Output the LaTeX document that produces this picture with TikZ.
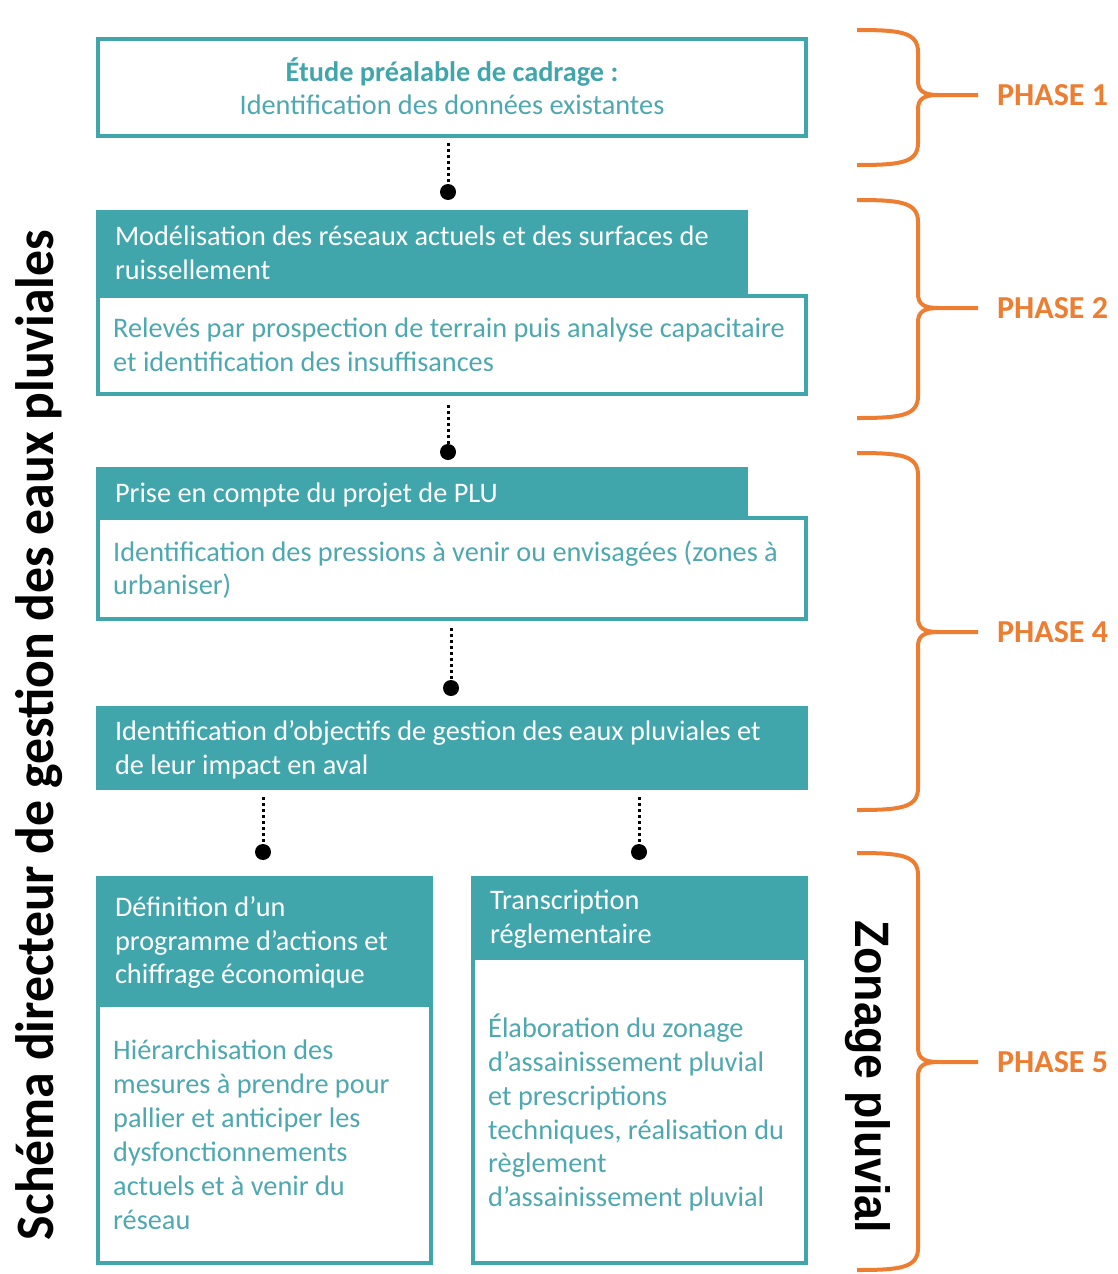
\documentclass[tikz,border=0pt]{standalone}
\usepackage{fontspec}
\setmainfont{Carlito}
\newfontfamily\arialfont{Liberation Sans}
\usetikzlibrary{calc}
\definecolor{teal1}{RGB}{65,166,172}
\definecolor{tealtxt}{RGB}{78,168,175}
\definecolor{orange1}{RGB}{237,125,49}
\newcommand\drawphasebrace[3]{%
 \draw[bracepath] (857,#1) .. controls (900,#1) and (918,#1+2) .. (918,#1+22) -- (918,#2-14) .. controls (918,#2-4) and (924,#2) .. (938,#2) -- (978,#2);
 \draw[bracepath] (938,#2) .. controls (924,#2) and (918,#2+4) .. (918,#2+14) -- (918,#3-22) .. controls (918,#3-2) and (900,#3) .. (857,#3);
}
\begin{document}
\begin{tikzpicture}[x=1pt,y=-1pt,
  bodyfont/.style={font=\fontsize{28.3}{33.5}\selectfont},
  outlinebox/.style={draw=teal1, line width=4pt, fill=white, inner sep=0pt},
  headbox/.style={fill=teal1, inner sep=0pt},
  headtext/.style={text=white, align=left, anchor=west, inner sep=0pt, bodyfont, yshift=-3pt},
  bodytext/.style={text=tealtxt, align=left, anchor=west, inner sep=0pt, bodyfont, yshift=-3pt},
  dotline/.style={line width=3pt, dash pattern=on 3pt off 3pt, black},
  blackdot/.style={circle, fill=black, inner sep=0pt, minimum size=16pt},
  bracepath/.style={draw=orange1, line width=4pt},
  phaselabel/.style={text=orange1, font=\fontsize{32}{36}\selectfont\bfseries, anchor=west, inner sep=0pt}
]
\useasboundingbox[fill=white] (0,0) rectangle (1117,1274);

% Box 1
\node[outlinebox, minimum width=708pt, minimum height=97pt] (b1) at (452,87.5) {};
\node[text=tealtxt, align=center, inner sep=0pt, bodyfont] (t1) at (452,91) {{\color{teal1}\bfseries Étude préalable de cadrage :}\strut\\Identification des données existantes\strut};

% Box 2
\node[headbox, minimum width=652pt, minimum height=86pt] (h2) at (422,253) {};
\node[outlinebox, minimum width=708pt, minimum height=98pt] (w2) at (452,345) {};
\node[headtext] (t2h) at ([xshift=19pt]h2.west) {Modélisation des réseaux actuels et des surfaces de\strut\\ruissellement\strut};
\node[bodytext] (t2b) at ([xshift=17pt]w2.west) {Relevés par prospection de terrain puis analyse capacitaire\strut\\et identification des insuffisances\strut};

% Box 3
\node[headbox, minimum width=652pt, minimum height=51pt] (h3) at (422,492.5) {};
\node[outlinebox, minimum width=708pt, minimum height=101pt] (w3) at (452,568.5) {};
\node[headtext] (t3h) at ([xshift=19pt]h3.west) {Prise en compte du projet de PLU\strut};
\node[bodytext] (t3b) at ([xshift=17pt]w3.west) {Identification des pressions à venir ou envisagées (zones à\strut\\urbaniser)\strut};

% Box 4
\node[headbox, minimum width=712pt, minimum height=84pt] (b4) at (452,748) {};
\node[headtext] (t4) at ([xshift=19pt]b4.west) {Identification d’objectifs de gestion des eaux pluviales et\strut\\de leur impact en aval\strut};

% Box 5
\node[headbox, minimum width=337pt, minimum height=129pt] (h5) at (264.5,940.5) {};
\node[outlinebox, minimum width=333pt, minimum height=258pt] (w5) at (264.5,1134) {};
\node[headtext] (t5h) at ([xshift=19pt]h5.west) {Définition d’un\strut\\programme d’actions et\strut\\chiffrage économique\strut};
\node[bodytext, font=\fontsize{28.3}{34}\selectfont, yshift=-1pt] (t5b) at ([xshift=17pt]w5.west) {Hiérarchisation des\strut\\mesures à prendre pour\strut\\pallier et anticiper les\strut\\dysfonctionnements\strut\\actuels et à venir du\strut\\réseau\strut};

% Box 6
\node[headbox, minimum width=337pt, minimum height=82pt] (h6) at (639.5,917) {};
\node[outlinebox, minimum width=333pt, minimum height=305pt] (w6) at (639.5,1110.5) {};
\node[headtext] (t6h) at ([xshift=19pt]h6.west) {Transcription\strut\\réglementaire\strut};
\node[bodytext, font=\fontsize{28.3}{33.8}\selectfont, yshift=-2pt] (t6b) at ([xshift=17pt]w6.west) {Élaboration du zonage\strut\\d’assainissement pluvial\strut\\et prescriptions\strut\\techniques, réalisation du\strut\\règlement\strut\\d’assainissement pluvial\strut};

% Connectors
\node[blackdot] (d1) at (448,192) {};
\node[blackdot] (d2) at (448,452) {};
\node[blackdot] (d3) at (451,688) {};
\node[blackdot] (d4) at (263,852) {};
\node[blackdot] (d5) at (639,852) {};
\coordinate (c1) at (448,143);
\coordinate (c2) at (448,405);
\coordinate (c3) at (451,628);
\coordinate (c4) at (263,797);
\coordinate (c5) at (639,797);
\draw[dotline] (c1) -- (d1.north);
\draw[dotline] (c2) -- (d2.north);
\draw[dotline] (c3) -- (d3.north);
\draw[dotline] (c4) -- (d4.north);
\draw[dotline] (c5) -- (d5.north);

% Braces
\drawphasebrace{30}{95}{165}
\drawphasebrace{200}{308}{418}
\drawphasebrace{453}{632}{810}
\drawphasebrace{853}{1062}{1270}
\node[phaselabel] (p1) at (997,95) {PHASE 1};
\node[phaselabel] (p2) at (997,308) {PHASE 2};
\node[phaselabel] (p4) at (997,632) {PHASE 4};
\node[phaselabel] (p5) at (997,1062) {PHASE 5};

% Vertical titles
\node[rotate=90, anchor=base, inner sep=0pt] (title) at (53,735) {\resizebox{1010pt}{38pt}{\bfseries Schéma directeur de gestion des eaux pluviales}};
\node[rotate=-90, anchor=base west, inner sep=0pt] (zon) at (855,920) {\resizebox{313pt}{35pt}{\arialfont\bfseries Zonage pluvial}};
\end{tikzpicture}
\end{document}
